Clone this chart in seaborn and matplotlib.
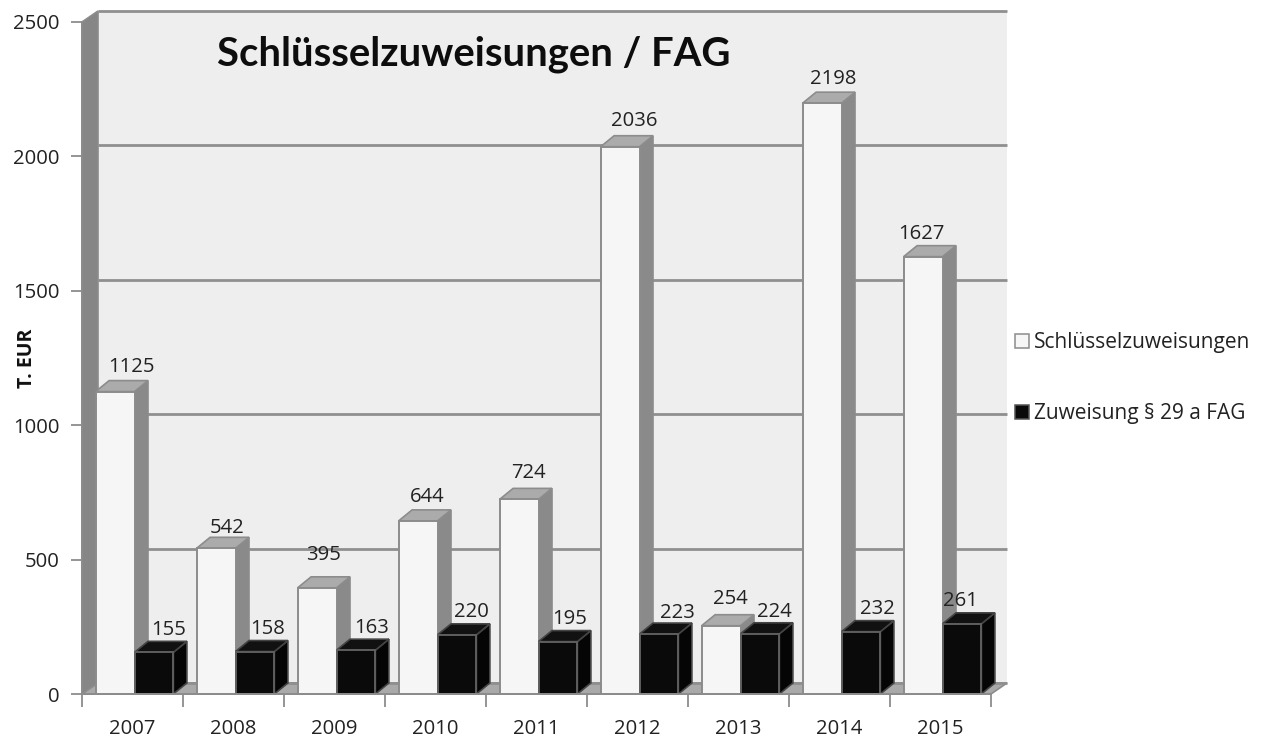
import matplotlib
matplotlib.use("Agg")
import matplotlib.pyplot as plt
from matplotlib.patches import Polygon, Patch
import pandas as pd
import seaborn as sns

years = ["2007", "2008", "2009", "2010", "2011", "2012", "2013", "2014", "2015"]
schluessel = [1125, 542, 395, 644, 724, 2036, 254, 2198, 1627]
zuweisung = [155, 158, 163, 220, 195, 223, 224, 232, 261]
series_names = ["Schlüsselzuweisungen", "Zuweisung § 29 a FAG"]
yticks = [0, 500, 1000, 1500, 2000, 2500]

W, H = 1266, 738
AX_L, AX_R, AX_B, AX_T = 82, 991, 694, 22
DX, DY = 16, 11          # depth of the wall, in pixels
BAR_DX = 13.5            # depth of the bars, in pixels
BAR_SHIFT = 2            # bars sit slightly right of the category centre, in pixels
EDGE = "#8c8c8c"
TEXT = "#222222"
FS = 14.6

# hand-placed label nudges (pixels from the front top centre of each bar)
nudge_white = [(16, 25), (11, 20), (6, 33), (9, 24), (9, 26), (14, 26), (9, 27), (11, 24), (-2, 23)]
nudge_black = [(15, 22), (13, 23), (16, 22), (14, 23), (12, 23), (18, 21), (14, 22), (16, 23), (-2, 23)]

sns.set_theme(style="white")
plt.rcParams["font.family"] = ["Open Sans", "DejaVu Sans"]

df = pd.DataFrame({
    "year": years * 2,
    "value": schluessel + zuweisung,
    "series": [series_names[0]] * 9 + [series_names[1]] * 9,
})

fig = plt.figure(figsize=(W / 100, H / 100), dpi=100, facecolor="white")
ax = fig.add_axes([AX_L / W, 1 - AX_B / H, (AX_R - AX_L) / W, (AX_B - AX_T) / H])
ax.patch.set_alpha(0)

sns.barplot(data=df, x="year", y="value", hue="series", order=years, hue_order=series_names,
            palette=["#f6f6f6", "#0a0a0a"], width=0.77, gap=0, dodge=True, ax=ax,
            legend=False, zorder=5, edgecolor=EDGE, linewidth=1.4, saturation=1)
ax.set_xlim(-0.5, 8.5)
ax.set_ylim(0, 2500)

xu = 9 / (AX_R - AX_L)
yu = 2500 / (AX_B - AX_T)
ddx, ddy = DX * xu, DY * yu
bdx = BAR_DX * xu


def poly(pts, fc, ec=EDGE, z=1, lw=1.2):
    ax.add_patch(Polygon(pts, closed=True, facecolor=fc, edgecolor=ec, linewidth=lw,
                         zorder=z, clip_on=False))


x0, x1 = -0.5, 8.5
# back wall, side wall, floor
poly([(x0 + ddx, ddy), (x1 + ddx, ddy), (x1 + ddx, 2500 + ddy), (x0 + ddx, 2500 + ddy)],
     "#eeeeee", ec="none", z=1)
poly([(x0, 0), (x0 + ddx, ddy), (x0 + ddx, 2500 + ddy), (x0, 2500)], "#868686", z=2)
poly([(x0, 0), (x1, 0), (x1 + ddx, ddy), (x0 + ddx, ddy)], "#a9a9a9", z=2)
# gridlines on the wall
for t in yticks:
    ax.plot([x0 + ddx, x1 + ddx], [t + ddy, t + ddy], color="#8f8f8f", lw=2.0, zorder=3,
            clip_on=False, solid_capstyle="butt")

# depth faces and value labels for each bar
styles = [("#8a8a8a", "#ababab", "#8c8c8c", EDGE), ("#050505", "#111111", "#444444", "#5e5e5e")]
for k, (cont, vals, (side, top, ec, front_ec), nudges) in enumerate(
        zip(ax.containers, [schluessel, zuweisung], styles, [nudge_white, nudge_black])):
    for i, (rect, v, (nx, ny)) in enumerate(zip(cont.patches, vals, nudges)):
        rect.set_x(rect.get_x() + BAR_SHIFT * xu)
        rect.set_edgecolor(front_ec)
        l = rect.get_x()
        r = l + rect.get_width()
        z = 4 + 0.1 * i + 0.05 * k
        poly([(r, 0), (r + bdx, ddy), (r + bdx, v + ddy), (r, v)], side, ec=ec, z=z)
        poly([(l, v), (r, v), (r + bdx, v + ddy), (l + bdx, v + ddy)], top, ec=ec, z=z)
        rect.set_zorder(z + 0.01)
        ax.annotate(str(v), xy=((l + r) / 2, v), xytext=(nx * 0.72, ny * 0.72),
                    textcoords="offset points", ha="center", va="center",
                    fontsize=FS, color=TEXT, zorder=20, annotation_clip=False)

# axes styling
for s in ["top", "right"]:
    ax.spines[s].set_visible(False)
for s in ["left", "bottom"]:
    ax.spines[s].set_color(EDGE)
    ax.spines[s].set_linewidth(1.4)
    ax.spines[s].set_zorder(6)
ax.set_yticks(yticks)
ax.set_yticklabels([str(t) for t in yticks], fontsize=FS, color=TEXT)
ax.set_xticks([i - 0.5 for i in range(10)], minor=True)
ax.set_xticks(range(9))
ax.set_xticklabels(years, fontsize=FS, color=TEXT)
ax.tick_params(axis="x", which="major", length=0, bottom=False, pad=18)
ax.tick_params(axis="x", which="minor", length=9, width=1.3, color=EDGE, bottom=True)
ax.tick_params(axis="y", which="major", length=8, width=1.3, color=EDGE, pad=8, left=True)
ax.set_xlabel("")
ax.set_ylabel("")

fig.text(27 / W, 1 - 358 / H, "T. EUR", rotation=90, ha="center", va="center",
         fontsize=14, fontweight="bold", color="#111111")
fig.text(474 / W, 1 - 54 / H, "Schlüsselzuweisungen / FAG", ha="center", va="center",
         fontsize=28.8, fontweight="bold", color="#0d0d0d", family=["Lato", "DejaVu Sans"])

handles = [Patch(facecolor="#f6f6f6", edgecolor=EDGE, linewidth=1.1),
           Patch(facecolor="#0a0a0a", edgecolor="#555555", linewidth=1.1)]
fig.legend(handles, series_names, loc="center left", bbox_to_anchor=(1015 / W, 1 - 378 / H),
           frameon=False, fontsize=FS + 0.4, handlelength=0.68, handleheight=0.68, handletextpad=0.22,
           labelspacing=2.4, borderpad=0, borderaxespad=0, labelcolor=TEXT)

fig.savefig("out.png", dpi=100, facecolor="white")
